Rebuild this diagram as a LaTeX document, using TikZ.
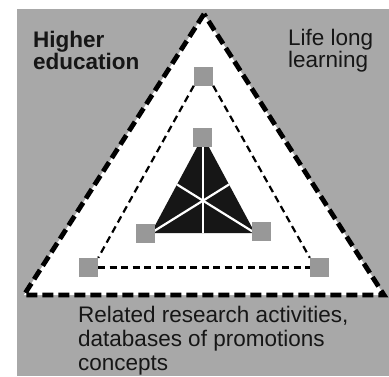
\documentclass[tikz,border=0pt]{standalone}
\usepackage{fontspec}
\setmainfont{Liberation Sans}
\usetikzlibrary{calc}
\definecolor{bggray}{RGB}{168,168,168}
\definecolor{sqgray}{RGB}{152,152,152}
\definecolor{ink}{RGB}{22,22,22}
\begin{document}
\begin{tikzpicture}[x=1pt,y=-1pt,
  sq/.style={fill=sqgray, minimum size=19pt, inner sep=0pt, draw=none},
  outerline/.style={line width=4.8pt, dash pattern=on 11pt off 5pt, line join=miter},
  midline/.style={line width=2.2pt, dash pattern=on 7pt off 4.5pt},
  wline/.style={white, line width=2.2pt},
  lbl/.style={text=ink, align=left, inner sep=0pt, anchor=base west}]
\useasboundingbox (0,0) rectangle (389,376);
\fill[bggray] (17,9) rectangle (389,376);
% outer triangle
\coordinate (A) at (204,14);
\coordinate (B) at (24,295);
\coordinate (C) at (384,295);
\fill[white] (A) -- (B) -- (C) -- cycle;
\draw[outerline] (A) -- (B) -- (C) -- cycle;
% inner black triangle
\coordinate (T) at (203,136);
\coordinate (L) at (151,233);
\coordinate (R) at (255,233);
\fill[ink] (T) -- (L) -- (R) -- cycle;
\draw[wline] (T) -- ($(L)!0.5!(R)$);
\draw[wline] (L) -- ($(T)!0.5!(R)$);
\draw[wline] (R) -- ($(T)!0.5!(L)$);
% squares
\node[sq] (m1) at (203.5,76) {};
\node[sq] (m2) at (88.5,267.5) {};
\node[sq] (m3) at (319.5,267.5) {};
\node[sq] (i1) at (202.5,137.5) {};
\node[sq] (i2) at (145.5,233.5) {};
\node[sq] (i3) at (261,231.5) {};
% middle dashed triangle
\draw[midline] (m1.south west) -- (m2.north east);
\draw[midline] (m1.south east) -- (m3.north west);
\draw[midline] (m2.east) -- (m3.west);
% labels (base anchor = last line baseline)
\node[lbl, font=\fontsize{22.5}{22}\selectfont\bfseries] (he) at (33,69) {Higher\\education};
\node[lbl, font=\fontsize{22.5}{22}\selectfont] (ll) at (288,67) {Life long\\learning};
\node[lbl, font=\fontsize{22.5}{24}\selectfont] (rr) at (78,370) {Related research activities,\\databases of promotions\\concepts};
\end{tikzpicture}
\end{document}
